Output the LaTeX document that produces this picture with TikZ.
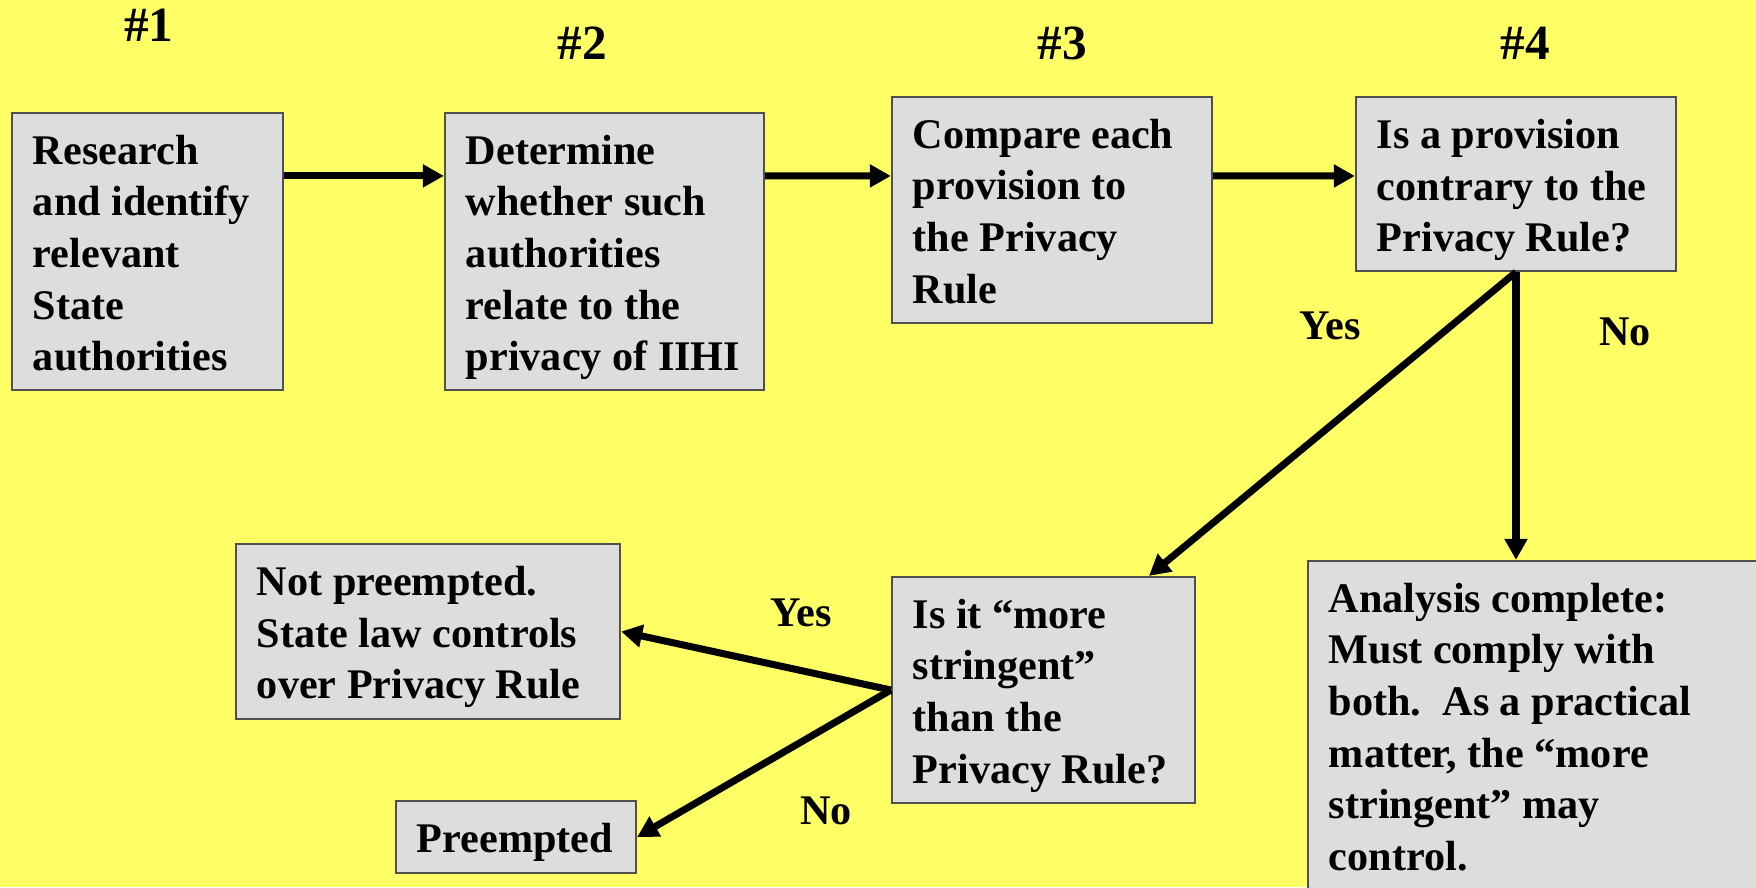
\documentclass[tikz,border=0pt]{standalone}
\usepackage{fontspec}
\setmainfont{Liberation Serif}
\usetikzlibrary{arrows.meta}
\definecolor{bgyellow}{RGB}{255,255,102}
\definecolor{boxgray}{RGB}{221,221,221}
\definecolor{edgegray}{RGB}{80,80,80}
% box text: width, height, lines (top aligned, first baseline fixed)
\newcommand{\stagetext}[3]{\parbox[c][#2][t]{#1}{\raggedright\leftskip=0.21cm
  \rule{0pt}{0.515cm}#3}}

\begin{document}
\begin{tikzpicture}[x=0.01cm,y=-0.01cm,
  box/.style={draw=edgegray,line width=0.6pt,fill=boxgray,inner sep=0pt,
    font=\fontsize{12}{14.65}\selectfont\bfseries},
  arr/.style={line width=2pt,-{Triangle[length=0.21cm,width=0.22cm]}},
  lbl/.style={inner sep=0pt,font=\fontsize{12}{14}\selectfont\bfseries},
  hdr/.style={inner sep=0pt,font=\fontsize{14}{16}\selectfont\bfseries}]
\clip (0,0) rectangle (1756,887);
\fill[bgyellow] (0,0) rectangle (1756,887);

\node[hdr] (h1) at (149,25) {\#1};
\node[hdr] (h2) at (582,43) {\#2};
\node[hdr] (h3) at (1062,43) {\#3};
\node[hdr] (h4) at (1525,43) {\#4};

\node[box] (st1) at (147.5,251.5)
  {\stagetext{2.71cm}{2.77cm}{Research\\and identify\\relevant\\State\\authorities}};
\node[box] (st2) at (604.5,251.5)
  {\stagetext{3.19cm}{2.77cm}{Determine\\whether such\\authorities\\relate to the\\privacy of IIHI}};
\node[box] (st3) at (1052,210)
  {\stagetext{3.20cm}{2.26cm}{Compare each\\provision to\\the Privacy\\Rule}};
\node[box] (st4) at (1516,184)
  {\stagetext{3.20cm}{1.74cm}{Is a provision\\contrary to the\\Privacy Rule?}};
\node[box] (more) at (1043.5,690)
  {\stagetext{3.03cm}{2.26cm}{Is it “more\\stringent”\\than the\\Privacy Rule?}};
% runs off the page at the right and bottom
\node[box] (done) at (1549,725.5)
  {\stagetext{4.82cm}{3.29cm}{Analysis complete:\\Must comply with\\both.\ \ As a practical\\matter, the “more\\stringent” may\\control.}};
\node[box] (notpre) at (428,631.5)
  {\stagetext{3.84cm}{1.75cm}{Not preempted.\\State law controls\\over Privacy Rule}};
\node[box] (pre) at (516,837)
  {\stagetext{2.40cm}{0.72cm}{Preempted}};

\draw[arr] ([yshift=-0.64cm]st1.north east) -- ([yshift=-0.64cm]st2.north west);
\draw[arr] ([yshift=-0.64cm]st2.north east) -- ([yshift=-0.8cm]st3.north west);
\draw[arr] ([yshift=-0.8cm]st3.north east) -- ([yshift=-0.8cm]st4.north west);
\draw[arr] (st4.south) -- ([xshift=2.58cm]more.north west);
\draw[arr] (st4.south) -- (st4.south |- done.north);
\draw[arr] (more.west) -- (notpre.east);
\draw[arr] (more.west) -- (pre.east);

\node[lbl] (yes1) at (1330,326) {Yes};
\node[lbl] (no1) at (1625,332) {No};
\node[lbl] (yes2) at (801,613) {Yes};
\node[lbl] (no2) at (826,811) {No};
\end{tikzpicture}
\end{document}
